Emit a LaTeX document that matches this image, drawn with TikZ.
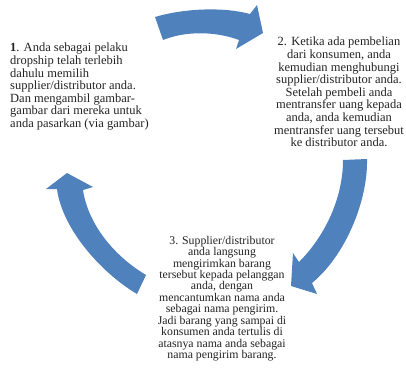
\documentclass[tikz,border=0pt]{standalone}
\usepackage{fontspec}
\setmainfont{Liberation Serif}
\definecolor{arrowblue}{HTML}{4F81BD}
\definecolor{txtcol}{HTML}{222222}
\tikzset{
  txt/.style={inner sep=0pt, text=txtcol, font=\fontsize{12.5}{12.6}\selectfont},
  txtsmall/.style={inner sep=0pt, text=txtcol, font=\fontsize{11.8}{11.4}\selectfont},
  cyclearrow/.style={fill=arrowblue, draw=none}
}
\begin{document}
\begin{tikzpicture}[x=1pt, y=-1pt]
\useasboundingbox (0,0) rectangle (406,384);
\node[txt, anchor=north west, align=left] (t1) at (10,43)
  {\textbf{1}. Anda sebagai pelaku\\ dropship telah terlebih\\ dahulu memilih\\ supplier/distributor anda.\\ Dan mengambil gambar-\\ gambar dari mereka untuk\\ anda pasarkan (via gambar)};
\node[txt, anchor=north, align=center] (t2) at (339,37)
  {2. Ketika ada pembelian\\ dari konsumen, anda\\ kemudian menghubungi\\ supplier/distributor anda.\\ Setelah pembeli anda\\ mentransfer uang kepada\\ anda, anda kemudian\\ mentransfer uang tersebut\\ ke distributor anda.};
\node[txtsmall, anchor=north, align=center] (t3) at (222,236)
  {3. Supplier/distributor\\ anda langsung\\ mengirimkan barang\\ tersebut kepada pelanggan\\ anda, dengan\\ mencantumkan nama anda\\ sebagai nama pengirim.\\ Jadi barang yang sampai di\\ konsumen anda tertulis di\\ atasnya nama anda sebagai\\ nama pengirim barang.};
% arrow 1 -> 2 (top)
\fill[cyclearrow] (155,17) .. controls (185,8) and (225,7) .. (250,14)
  -- (257,5) -- (263,33) -- (236,49) -- (239,40)
  .. controls (215,31) and (185,31) .. (163,40) -- cycle;
% arrow 2 -> 3 (right)
\fill[cyclearrow] (367,159) .. controls (368,200) and (346,255) .. (312,283)
  -- (317,294) -- (291,286) -- (293,253) -- (299,262)
  .. controls (325,236) and (343,198) .. (343,160) -- cycle;
% arrow 3 -> 1 (left)
\fill[cyclearrow] (137,294) .. controls (100,272) and (62,228) .. (57,189)
  -- (46,189) -- (67,173) -- (93,187) -- (83,190)
  .. controls (88,224) and (114,256) .. (146,275) -- cycle;
\end{tikzpicture}
\end{document}
